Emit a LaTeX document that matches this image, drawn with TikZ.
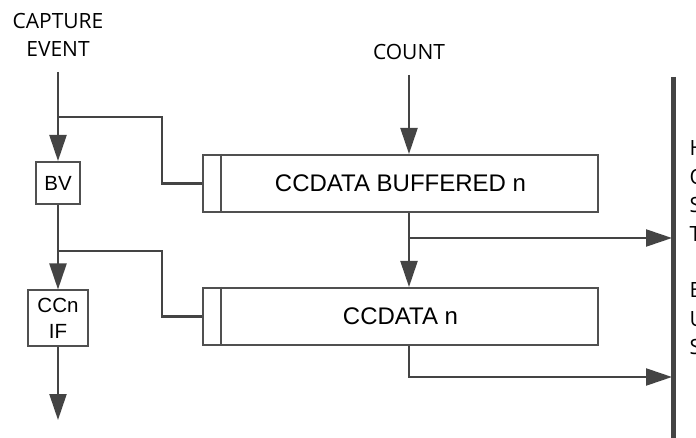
\documentclass[tikz,border=0pt]{standalone}
\usepackage{fontspec}
\setmainfont{Liberation Sans}
\newfontfamily\labelfont{Open Sans}
\usetikzlibrary{arrows.meta}
\definecolor{wire}{HTML}{444444}
\definecolor{frame}{HTML}{505050}
\tikzset{
  reg/.style={
    % The shape:
    shape=rectangle,
    % The size:
    minimum width=395pt, minimum height=57pt,
    % The border:
    line width=2pt, draw=frame,
    font=\fontsize{24}{28}\selectfont
  },
  smallbox/.style={
    shape=rectangle, line width=2pt, draw=frame,
    inner sep=0pt, align=center,
    font=\fontsize{20.5}{26}\selectfont
  },
  sig/.style={
    align=center, text=black,
    font=\labelfont\fontsize{21}{28.5}\selectfont
  },
  wires/.style={line width=2.2pt, draw=wire}
}
\begin{document}
\begin{tikzpicture}[x=1pt,y=-1pt,>={Triangle[length=26pt,width=17pt]}]
	\useasboundingbox (0,0) rectangle (696,438);

	% inputs
	\node[sig] (cap) at (58,35) {CAPTURE\\EVENT};
	\node[sig] (count) at (409,52) {COUNT};
	\coordinate (capin) at (58,72);
	\coordinate (countin) at (409,75);
	\coordinate (tap1) at (58,117);
	\coordinate (tap2) at (58,251);
	\coordinate (intout) at (58,420);

	% capture path
	\node[smallbox,minimum width=44pt,minimum height=42pt] (bv) at (58,183) {BV};
	\node[smallbox,minimum width=60pt,minimum height=55pt] (ccif) at (58,318) {CCn\\IF};

	% registers
	\node[reg] (buf) at (400.5,183.5) {CCDATA BUFFERED n};
	\node[reg] (dat) at (400.5,316.5) {CCDATA n};
	\draw[line width=2pt,draw=frame] ([xshift=19pt]buf.north west) -- ([xshift=19pt]buf.south west);
	\draw[line width=2pt,draw=frame] ([xshift=19pt]dat.north west) -- ([xshift=19pt]dat.south west);

	% bus
	\coordinate (bustop) at (673.5,77);
	\coordinate (busbot) at (673.5,442);
	\coordinate (busin1) at (673.5,238);
	\coordinate (busin2) at (673.5,377);
	\node[sig,align=left,anchor=west] (hostbus) at (686,248) {H\\O\\S\\T\\[28pt]B\\U\\S};

	% connections
	\draw[wires,->] (capin) -- (bv.north);
	\draw[wires,->] (bv.south) -- (ccif.north);
	\draw[wires,->] (ccif.south) -- (intout);
	\draw[wires] (tap1) -| ([xshift=-40pt]buf.west) -- (buf.west);
	\draw[wires] (tap2) -| ([xshift=-40pt]dat.west) -- (dat.west);
	\draw[wires,->] (countin) -- (buf.north -| countin);
	\draw[wires,->] (buf.south -| countin) -- (dat.north -| countin);
	\draw[wires,->,shorten >=1.5pt] (busin1 -| countin) -- (busin1);
	\draw[wires,->,shorten >=1.5pt] (dat.south -| countin) |- (busin2);
	\draw[line width=5pt,draw=wire] (bustop) -- (busbot);
\end{tikzpicture}
\end{document}
